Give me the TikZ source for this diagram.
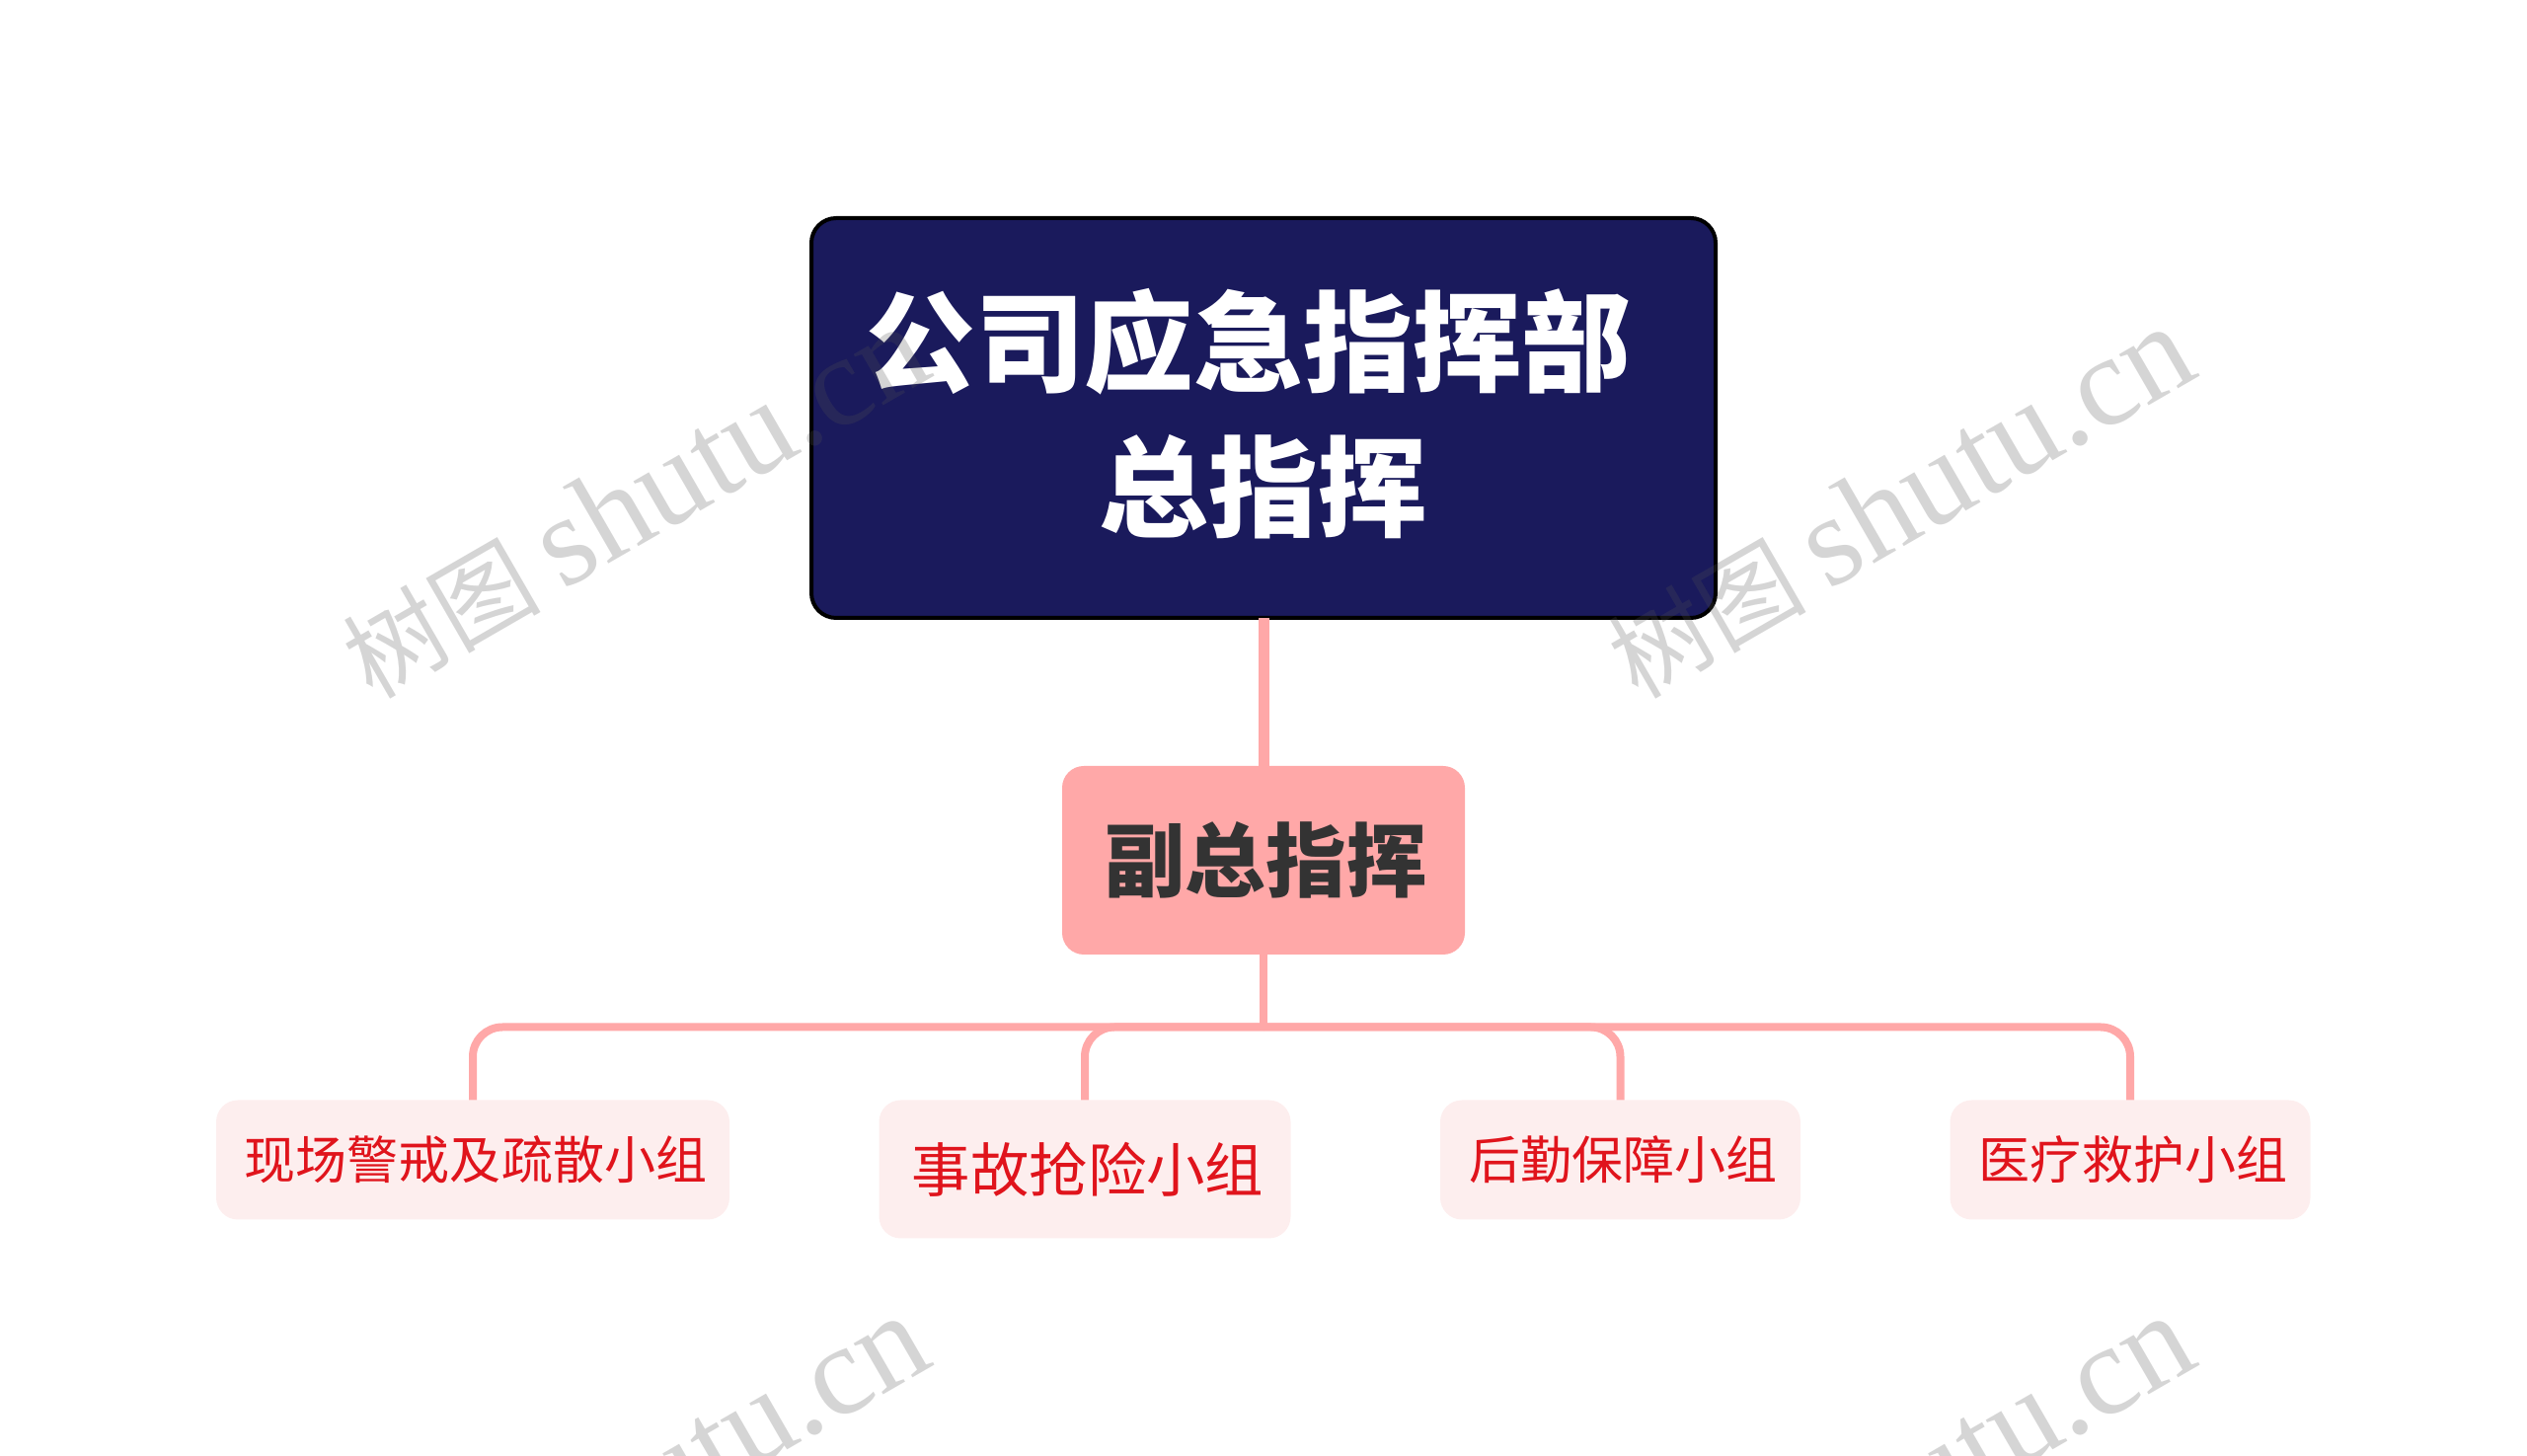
\documentclass[tikz,border=0pt]{standalone}
\usepackage{fontspec}
\setmainfont{Noto Sans CJK SC}
\newfontfamily\latinserif{Liberation Serif}
\usepackage{xcolor}
\definecolor{navybox}{HTML}{1A1A5C}
\definecolor{pinkbox}{HTML}{FFA8A8}
\definecolor{palebox}{HTML}{FDEEEE}
\definecolor{redtext}{HTML}{E0141C}
\definecolor{darktext}{HTML}{333333}
\definecolor{marktone}{HTML}{535353}
\newcommand{\marktext}{\fontsize{28.5}{32}\selectfont 树图 \fontsize{37}{32}\selectfont\latinserif shutu.cn}
\tikzset{
    topbox/.style = {rectangle, draw=black, line width=0.04cm, fill=navybox, text=white, rounded corners=0.25cm, inner sep=0, outer sep=0, align=center, minimum width=9.16cm, minimum height=4.05cm, text depth=5.5pt, font=\fontsize{31.5}{41.8}\selectfont\bfseries},
    deputybox/.style = {rectangle, fill=pinkbox, text=darktext, rounded corners=0.22cm, inner sep=0, outer sep=0, minimum width=4.08cm, minimum height=1.91cm, font=\fontsize{23.2}{28}\selectfont\bfseries},
    groupbox/.style = {rectangle, fill=palebox, text=redtext, rounded corners=0.22cm, inner sep=0, outer sep=0, minimum height=1.21cm},
    link/.style = {draw=pinkbox, line width=0.08cm, rounded corners=0.3cm},
    watermark/.style = {text=marktone, text opacity=0.245, rotate=30, inner sep=0},
}
\begin{document}
\begin{tikzpicture}
    \useasboundingbox (0,0) rectangle (25.6,14.75);
    \node (head) at (12.8,10.515) [topbox] {公司应急指挥部\hspace*{0.3cm}\\总指挥};
    \node (deputy) at (12.8,6.035) [deputybox] {\hspace*{0.05cm}副总指挥};
    \node (watch) at (4.79,3.0) [groupbox,minimum width=5.2cm,font=\fontsize{14.8}{18}\selectfont] {\hspace*{0.06cm}现场警戒及疏散小组};
    \node (rescue) at (10.99,2.905) [groupbox,minimum width=4.17cm,minimum height=1.4cm,font=\fontsize{16.9}{20}\selectfont] {\hspace*{0.06cm}事故抢险小组};
    \node (supply) at (16.415,3.0) [groupbox,minimum width=3.65cm,font=\fontsize{14.8}{18}\selectfont] {\hspace*{0.06cm}后勤保障小组};
    \node (medic) at (21.58,3.0) [groupbox,minimum width=3.65cm,font=\fontsize{14.8}{18}\selectfont] {\hspace*{0.06cm}医疗救护小组};
    \coordinate (bar) at (12.8,4.345);
    \draw[link,line width=0.11cm] (head) -- (deputy);
    \draw[link] (deputy) -- (bar);
    \draw[link] (bar) -| (watch.north);
    \draw[link] (bar) -| (rescue.north);
    \draw[link] (bar) -| (supply.north);
    \draw[link] (bar) -| (medic.north);
    \clip (0,0) rectangle (25.6,14.75);
    \node (markA) at (6.43,9.66) [watermark] {\marktext};
    \node (markB) at (19.25,9.66) [watermark] {\marktext};
    \node (markC) at (6.43,-0.36) [watermark] {\marktext};
    \node (markD) at (19.25,-0.36) [watermark] {\marktext};
\end{tikzpicture}
\end{document}
